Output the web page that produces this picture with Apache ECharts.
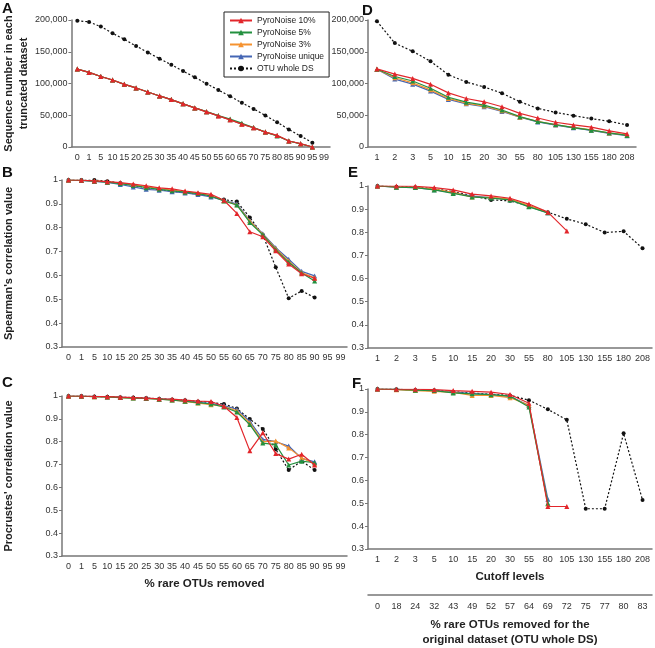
<!DOCTYPE html>
<html>
<head>
<meta charset="utf-8">
<script src="https://cdn.jsdelivr.net/npm/echarts@6/dist/echarts.min.js"></script>
<style>
  html, body { margin: 0; padding: 0; background: #fff; }
  #chart { width: 655px; height: 648px; }
</style>
</head>
<body>
<div id="chart"></div>
<script>
// categories
var pctCats = ['0', '1', '5', '10', '15', '20', '25', '30', '35', '40', '45', '50', '55', '60', '65', '70', '75', '80', '85', '90', '95', '99'];
var cutCats = ['1', '2', '3', '5', '10', '15', '20', '30', '55', '80', '105', '130', '155', '180', '208'];
var wholePctCats = ['0', '18', '24', '32', '43', '49', '52', '57', '64', '69', '72', '75', '77', '80', '83'];

var seriesNames = ['PyroNoise 10%', 'PyroNoise 5%', 'PyroNoise 3%', 'PyroNoise unique', 'OTU whole DS'];

// A: sequence number vs % rare OTUs removed
var seqRed = [122700, 117500, 111000, 105500, 98700, 93000, 86700, 80400, 74700, 68000, 61600, 55400, 49000, 42800, 36000, 30300, 23500, 18300, 9400, 5200, 0, null];
var seqGreen = [122700, 117500, 111000, 105500, 98700, 93000, 86700, 80400, 74700, 68000, 61600, 55600, 49500, 44000, 37500, 30600, 23500, 17300, 9400, 5000, 0, null];
var seqOrange = [122700, 117500, 111000, 105500, 98700, 93000, 86700, 80400, 74700, 68000, 61600, 55400, 49200, 43000, 36300, 30300, 23500, 18000, 9400, 5100, 0, null];
var seqBlue = [122700, 117500, 111000, 105500, 98700, 93000, 86700, 80400, 74700, 68000, 61600, 55400, 49100, 42900, 36100, 30300, 23500, 18100, 9400, 5100, 0, null];
var seqOtu = [199000, 197000, 189600, 179000, 169700, 159000, 149000, 139000, 129500, 119600, 109700, 99700, 89800, 79900, 69500, 60000, 49600, 39000, 27700, 17200, 6800, null];

// B: Spearman vs % rare OTUs removed
var spRed = [1.0, 0.999, 0.996, 0.993, 0.989, 0.983, 0.976, 0.967, 0.963, 0.954, 0.947, 0.94, 0.915, 0.86, 0.783, 0.762, 0.703, 0.648, 0.607, 0.588, null, null];
var spGreen = [1.0, 0.998, 0.995, 0.991, 0.985, 0.977, 0.968, 0.961, 0.955, 0.949, 0.943, 0.933, 0.912, 0.895, 0.822, 0.77, 0.708, 0.655, 0.61, 0.577, null, null];
var spOrange = [1.0, 0.999, 0.996, 0.992, 0.987, 0.98, 0.972, 0.964, 0.958, 0.951, 0.944, 0.935, 0.913, 0.896, 0.828, 0.772, 0.712, 0.66, 0.612, 0.59, null, null];
var spBlue = [1.0, 0.998, 0.994, 0.99, 0.981, 0.971, 0.961, 0.957, 0.951, 0.946, 0.939, 0.929, 0.914, 0.9, 0.83, 0.775, 0.716, 0.668, 0.617, 0.598, null, null];
var spOtu = [1.0, 1.0, 1.0, 0.995, 0.987, 0.978, 0.968, 0.96, 0.953, 0.947, 0.94, 0.932, 0.918, 0.91, 0.843, 0.77, 0.634, 0.504, 0.535, 0.507, null, null];

// C: Procrustes vs % rare OTUs removed
var prRed = [1.0, 1.0, 0.998, 0.997, 0.995, 0.993, 0.991, 0.988, 0.986, 0.982, 0.978, 0.976, 0.955, 0.906, 0.76, 0.839, 0.748, 0.724, 0.745, 0.698, null, null];
var prGreen = [1.0, 0.999, 0.997, 0.996, 0.993, 0.991, 0.989, 0.986, 0.982, 0.977, 0.971, 0.965, 0.952, 0.93, 0.875, 0.794, 0.787, 0.698, 0.715, 0.708, null, null];
var prOrange = [1.0, 0.999, 0.997, 0.996, 0.993, 0.991, 0.989, 0.986, 0.983, 0.976, 0.969, 0.962, 0.954, 0.935, 0.882, 0.8, 0.803, 0.773, 0.73, 0.703, null, null];
var prBlue = [1.0, 0.999, 0.998, 0.996, 0.994, 0.992, 0.99, 0.987, 0.984, 0.978, 0.972, 0.967, 0.958, 0.942, 0.889, 0.81, 0.8, 0.781, 0.727, 0.712, null, null];
var prOtu = [1.0, 1.0, 0.998, 0.997, 0.995, 0.993, 0.991, 0.988, 0.985, 0.981, 0.976, 0.972, 0.965, 0.945, 0.899, 0.856, 0.767, 0.676, 0.715, 0.676, null, null];

// D: sequence number vs cutoff levels
var cutSeqRed = [123000, 114800, 108000, 98700, 85200, 76400, 71200, 63400, 53000, 45700, 39000, 34800, 31200, 25500, 20800];
var cutSeqGreen = [122500, 111000, 104000, 92500, 78400, 70600, 66000, 58200, 47800, 40000, 35300, 30600, 26500, 22300, 18200];
var cutSeqOrange = [122500, 109000, 101000, 90000, 76500, 69000, 64500, 57000, 47000, 40500, 35000, 31000, 27000, 22000, 19000];
var cutSeqBlue = [122500, 107000, 99000, 88000, 75000, 68000, 63400, 56000, 46800, 39500, 34500, 30200, 26200, 21500, 17800];
var cutSeqOtu = [198000, 163600, 150600, 135000, 113800, 102300, 94500, 84700, 71200, 60800, 54500, 49400, 44700, 40500, 34800];

// E: Spearman vs cutoff levels
var cutSpRed = [1.0, 1.0, 0.999, 0.993, 0.983, 0.965, 0.957, 0.947, 0.922, 0.887, 0.806, null, null, null, null];
var cutSpGreen = [1.0, 0.995, 0.993, 0.983, 0.968, 0.953, 0.948, 0.94, 0.91, 0.884, null, null, null, null, null];
var cutSpOrange = [1.0, 0.996, 0.994, 0.987, 0.973, 0.952, 0.951, 0.943, 0.915, 0.885, null, null, null, null, null];
var cutSpBlue = [1.0, 0.995, 0.993, 0.984, 0.97, 0.956, 0.95, 0.941, 0.912, 0.884, null, null, null, null, null];
var cutSpOtu = [1.0, 0.997, 0.995, 0.988, 0.975, 0.958, 0.94, 0.936, 0.915, 0.887, 0.858, 0.835, 0.799, 0.804, 0.731];

// F: Procrustes vs cutoff levels
var cutPrRed = [1.0, 0.999, 0.999, 0.997, 0.993, 0.99, 0.986, 0.976, 0.938, 0.486, 0.486, null, null, null, null];
var cutPrGreen = [1.0, 0.998, 0.995, 0.993, 0.983, 0.979, 0.975, 0.969, 0.921, 0.5, null, null, null, null, null];
var cutPrOrange = [1.0, 0.997, 0.993, 0.99, 0.985, 0.972, 0.972, 0.962, 0.93, 0.497, null, null, null, null, null];
var cutPrBlue = [1.0, 0.998, 0.995, 0.993, 0.986, 0.98, 0.976, 0.968, 0.928, 0.518, null, null, null, null, null];
var cutPrOtu = [1.0, 0.999, 0.996, 0.994, 0.988, 0.982, 0.977, 0.972, 0.951, 0.911, 0.865, 0.476, 0.476, 0.806, 0.514];

var colors = ['#e2262b', '#23903f', '#f5922f', '#4566b4', '#111111'];
var font = 'Liberation Sans, Arial, sans-serif';

// grid order: A, B, C, D, E, F
var panels = [
    [seqRed, seqGreen, seqOrange, seqBlue, seqOtu],
    [spRed, spGreen, spOrange, spBlue, spOtu],
    [prRed, prGreen, prOrange, prBlue, prOtu],
    [cutSeqRed, cutSeqGreen, cutSeqOrange, cutSeqBlue, cutSeqOtu],
    [cutSpRed, cutSpGreen, cutSpOrange, cutSpBlue, cutSpOtu],
    [cutPrRed, cutPrGreen, cutPrOrange, cutPrBlue, cutPrOtu]
];

var grids = [
    {left: 62, top: 20, width: 268, height: 127},
    {left: 62, top: 180, width: 285, height: 167},
    {left: 62, top: 396, width: 285, height: 160},
    {left: 368, top: 20, width: 268, height: 127},
    {left: 368, top: 186, width: 284, height: 162},
    {left: 368, top: 389, width: 284, height: 167}
];

var axisLine = {lineStyle: {color: '#777', width: 1.5}};
var tick = {length: 3, lineStyle: {color: '#777'}};
var lbl = {fontSize: 9, color: '#333', fontFamily: font};
var nameStyle = {fontSize: 11, fontWeight: 'bold', color: '#222', fontFamily: font};

var xAxes = [];
var yAxes = [];
for (var g = 0; g < 6; g++) {
    var isPct = g < 3;
    var x = {
        type: 'category', gridIndex: g, data: isPct ? pctCats : cutCats,
        axisLine: axisLine, axisTick: tick,
        axisLabel: Object.assign({interval: 0, margin: 6, hideOverlap: false}, lbl)
    };
    if (g === 2) {
        x.name = '% rare OTUs removed';
    }
    if (g === 5) {
        x.name = 'Cutoff levels';
    }
    if (x.name) {
        x.nameLocation = 'middle';
        x.nameGap = 22;
        x.nameTextStyle = Object.assign({}, nameStyle, {fontSize: 11.5});
    }
    xAxes.push(x);

    var isSeq = (g === 0 || g === 3);
    var y = {
        type: 'value', gridIndex: g,
        min: isSeq ? 0 : 0.3, max: isSeq ? 200000 : 1, interval: isSeq ? 50000 : 0.1,
        splitLine: {show: false},
        axisLine: Object.assign({show: true}, axisLine), axisTick: Object.assign({show: true}, tick),
        axisLabel: Object.assign({
            margin: 4,
            formatter: isSeq ? function (v) { return v.toLocaleString('en-US'); }
                             : function (v) { return v >= 0.999 ? '1' : v.toFixed(1); }
        }, lbl)
    };
    if (g === 0) { y.name = 'Sequence number in each\ntruncated dataset'; y.nameGap = 32; }
    if (g === 1) { y.name = "Spearman's correlation value"; y.nameGap = 46; }
    if (g === 2) { y.name = "Procrustes' correlation value"; y.nameGap = 46; }
    if (y.name) {
        y.nameLocation = 'middle';
        y.nameRotate = 90;
        y.nameTextStyle = Object.assign({lineHeight: 15}, nameStyle);
    }
    yAxes.push(y);
}

// extra axis below F: % rare OTUs removed for the whole dataset
xAxes.push({
    type: 'category', gridIndex: 5, data: wholePctCats, position: 'bottom', offset: 46,
    axisLine: axisLine, axisTick: tick,
    axisLabel: Object.assign({interval: 0, margin: 7}, lbl),
    name: '% rare OTUs removed for the\noriginal dataset (OTU whole DS)',
    nameLocation: 'middle', nameGap: 22,
    nameTextStyle: Object.assign({lineHeight: 15}, nameStyle, {fontSize: 11.5})
});

var series = [];
for (var p = 0; p < panels.length; p++) {
    // draw OTU first, red on top
    for (var k = 4; k >= 0; k--) {
        var otu = k === 4;
        series.push({
            type: 'line', name: seriesNames[k],
            xAxisIndex: p, yAxisIndex: p,
            data: panels[p][k],
            color: colors[k],
            symbol: otu ? 'circle' : 'triangle',
            symbolSize: otu ? 4 : 5,
            lineStyle: {width: 1.2, type: otu ? [2, 2] : 'solid', color: colors[k]},
            itemStyle: {color: colors[k]},
            connectNulls: false,
            z: 10 - k
        });
    }
}

var letters = ['A', 'B', 'C', 'D', 'E', 'F'];
var letterPos = [[2, 1], [2, 165], [2, 375], [362, 3], [348, 165], [352, 376]];
var graphics = letters.map(function (t, i) {
    return {
        type: 'text', left: letterPos[i][0], top: letterPos[i][1],
        style: {text: t, fontSize: 15, fontWeight: 'bold', fill: '#111', fontFamily: font}
    };
});

var chart = echarts.init(document.getElementById('chart'));
chart.setOption({
    animation: false,
    backgroundColor: '#fff',
    grid: grids,
    xAxis: xAxes,
    yAxis: yAxes,
    series: series,
    graphic: graphics,
    legend: {
        data: seriesNames,
        orient: 'vertical', left: 224, top: 12,
        itemWidth: 22, itemHeight: 7, itemGap: 3,
        padding: [4, 5, 4, 5],
        borderColor: '#222', borderWidth: 1, backgroundColor: '#fff',
        textStyle: {fontSize: 8.5, color: '#222', fontFamily: font}
    }
});
</script>
</body>
</html>
